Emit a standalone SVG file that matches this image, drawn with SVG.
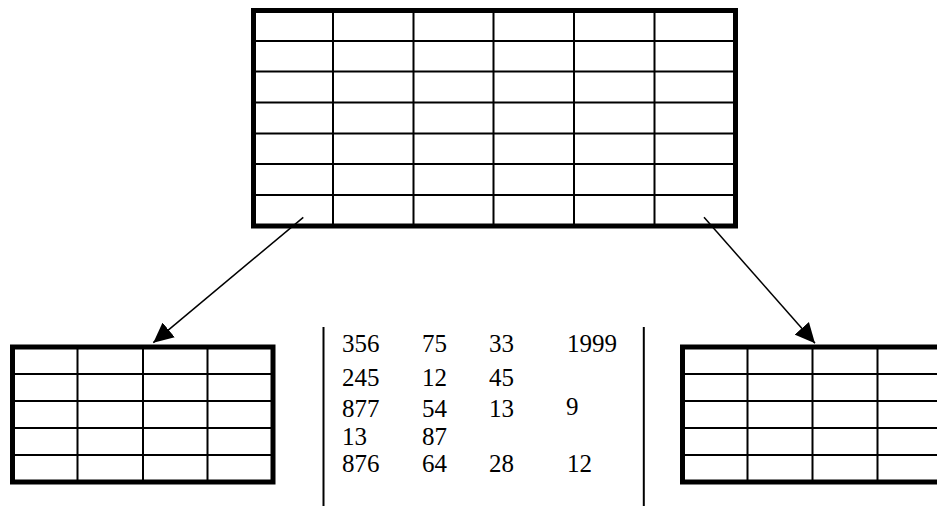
<svg xmlns="http://www.w3.org/2000/svg" width="937" height="506" viewBox="0 0 937 506">
<style>
.frame{fill:#fff;stroke:#000;stroke-width:5}
.grid{stroke:#000;stroke-width:2;fill:none}
.sep{stroke:#000;stroke-width:2}
.conn{stroke:#000;stroke-width:1.5;fill:none;marker-end:url(#ah)}
.num{font-family:"Liberation Serif","Times New Roman",serif;font-size:25px;fill:#000}
</style>
<defs>
<marker id="ah" markerUnits="userSpaceOnUse" markerWidth="20" markerHeight="20" refX="20" refY="9.5" orient="auto" viewBox="0 0 20 19">
<path d="M0,0 L20,9.5 L0,19 z" fill="#000"/>
</marker>
</defs>
<rect width="937" height="506" fill="#fff"/>
<g id="top-table">
<rect class="frame" x="253.5" y="10.5" width="482" height="215.5"/>
<path class="grid" d="M333,10.5V226 M413.5,10.5V226 M493.5,10.5V226 M574,10.5V226 M654.5,10.5V226 M253.5,41H735.5 M253.5,71.5H735.5 M253.5,102.5H735.5 M253.5,133.5H735.5 M253.5,164H735.5 M253.5,195H735.5"/>
</g>
<g id="left-table">
<rect class="frame" x="12.5" y="347" width="260.5" height="135"/>
<path class="grid" d="M77.5,347V482 M143,347V482 M207.5,347V482 M12.5,374H273 M12.5,401H273 M12.5,428H273 M12.5,455H273"/>
</g>
<g id="right-table">
<rect class="frame" x="682.5" y="347" width="260.5" height="135"/>
<path class="grid" d="M747.5,347V482 M812.5,347V482 M877.5,347V482 M682.5,374H943 M682.5,401H943 M682.5,428H943 M682.5,455H943"/>
</g>
<g id="data-block">
<line class="sep" x1="323.5" y1="327" x2="323.5" y2="506"/>
<line class="sep" x1="643.8" y1="327" x2="643.8" y2="506"/>
<text class="num" x="342" y="352">356</text><text class="num" x="422" y="352">75</text><text class="num" x="489" y="352">33</text><text class="num" x="567" y="352">1999</text>
<text class="num" x="342" y="386">245</text><text class="num" x="422" y="386">12</text><text class="num" x="489" y="386">45</text>
<text class="num" x="342" y="417">877</text><text class="num" x="422" y="417">54</text><text class="num" x="489" y="417">13</text><text class="num" x="566" y="415">9</text>
<text class="num" x="342" y="445">13</text><text class="num" x="422" y="445">87</text>
<text class="num" x="342" y="472">876</text><text class="num" x="422" y="472">64</text><text class="num" x="489" y="472">28</text><text class="num" x="567" y="472">12</text>
</g>
<g id="connectors">
<line class="conn" x1="303.3" y1="217.3" x2="153.3" y2="342.7"/>
<line class="conn" x1="704" y1="217.3" x2="815" y2="343.3"/>
</g>
</svg>
